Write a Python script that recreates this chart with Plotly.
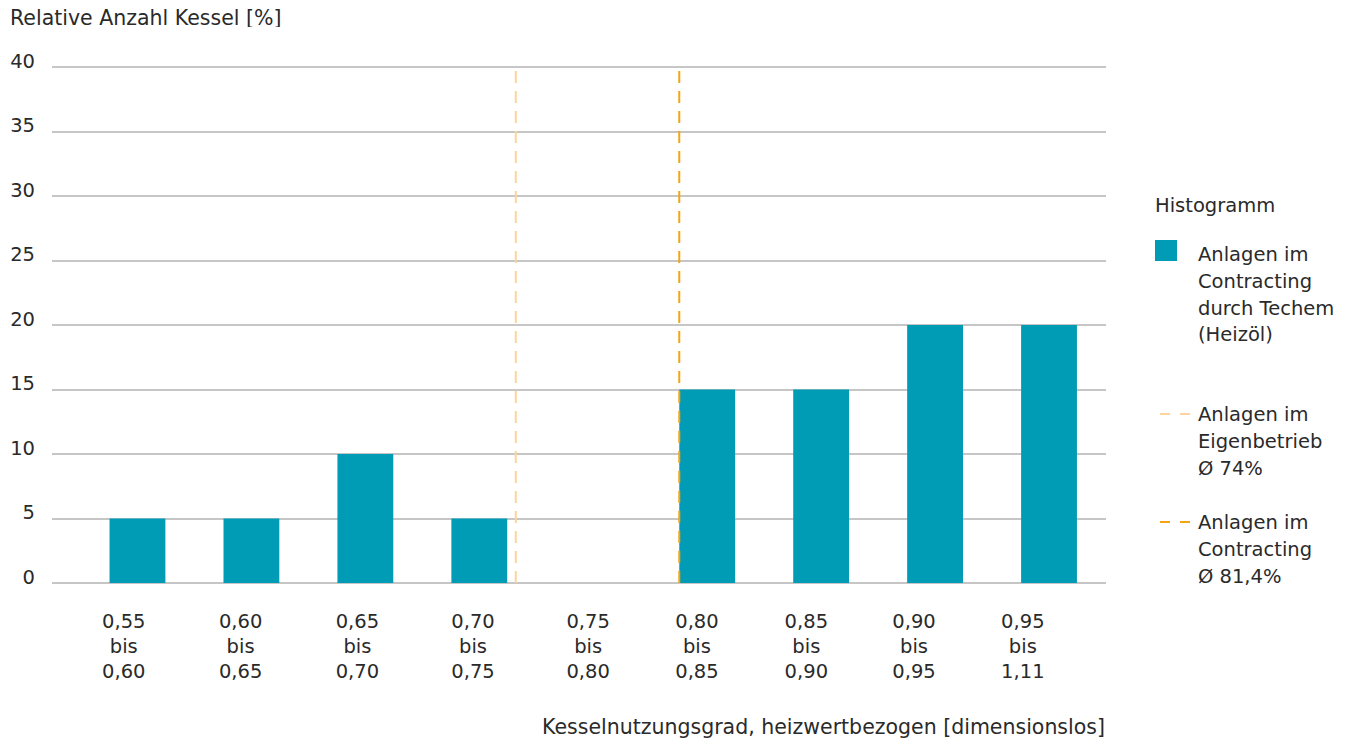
import plotly.graph_objects as go

# ---- data ----
bins_from = ["0,55", "0,60", "0,65", "0,70", "0,75", "0,80", "0,85", "0,90", "0,95"]
bins_to = ["0,60", "0,65", "0,70", "0,75", "0,80", "0,85", "0,90", "0,95", "1,11"]
share_pct = [5, 5, 10, 5, 0, 15, 15, 20, 20]
y_ticks = [0, 5, 10, 15, 20, 25, 30, 35, 40]
# mean positions on the category axis (index units)
mean_names = ["Anlagen im<br>Eigenbetrieb<br>Ø 74%", "Anlagen im<br>Contracting<br>Ø 81,4%"]
mean_pos = [3.32, 4.755]

# ---- layout / style ----
# the original's category labels are not exactly centred under the bars
label_pos = [-0.12, 0.905, 1.93, 2.945, 3.955, 4.91, 5.87, 6.815, 7.77]

TEAL = "#009bb4"
LIGHT = "#fcd49c"
DARK = "#f5a511"
GRID = "#c6c6c6"
TXT = "#2a2a2a"
FONT = "DejaVu Sans"
FS = 19.5
FS_TITLE = 20.5

OFF = 8  # page body margin
EXT = 2  # px of headroom so the 0 and 40 grid lines are drawn
W, H = 1349 - OFF, 743 - OFF
L, R, T, B = 52 - OFF, 1106 - OFF, 67 - OFF - EXT, 583 - OFF + EXT
unit = 516 / 40.0
pad_u = EXT / unit

cats = list(range(len(share_pct)))
tick_text = [f"{a}<br>bis<br>{b}" for a, b in zip(bins_from, bins_to)]

fig = go.Figure()
fig.add_trace(go.Bar(x=cats, y=share_pct, width=0.49, marker=dict(color=TEAL, line=dict(width=0)),
                     showlegend=False, hoverinfo="y"))
for pos, col in zip(mean_pos, [LIGHT, DARK]):
    fig.add_trace(go.Scatter(x=[pos, pos], y=[0, 40], mode="lines",
                             line=dict(color=col, width=2, dash="12px,8px"),
                             showlegend=False, hoverinfo="skip"))

def px(x):  # reference screen px -> paper
    return (x - OFF - L) / (R - L)

def py(y):
    return (B - (y - OFF)) / (B - T)

ann = []
shapes = []
ann.append(dict(text="Relative Anzahl Kessel [%]", x=px(9), y=py(18), xref="paper", yref="paper",
                xanchor="left", yanchor="middle", showarrow=False, height=18, borderpad=0,
                font=dict(size=FS_TITLE, color=TXT, family=FONT)))
ann.append(dict(text="Kesselnutzungsgrad, heizwertbezogen [dimensionslos]", x=px(1107), y=py(727),
                xref="paper", yref="paper", xanchor="right", yanchor="middle", showarrow=False,
                font=dict(size=FS_TITLE, color=TXT, family=FONT)))
# legend
ann.append(dict(text="Histogramm", x=px(1153), y=py(205), xref="paper", yref="paper",
                xanchor="left", yanchor="middle", showarrow=False, font=dict(size=FS, color=TXT, family=FONT)))

def multiline(text, x, y0, step=27):
    for i, line in enumerate(text.split("<br>")):
        ann.append(dict(text=line, x=px(x), y=py(y0 + i * step), xref="paper", yref="paper",
                        xanchor="left", yanchor="middle", showarrow=False,
                        font=dict(size=FS, color=TXT, family=FONT)))

shapes.append(dict(type="rect", xref="paper", yref="paper", x0=px(1155), x1=px(1177), y0=py(240), y1=py(261),
                   fillcolor=TEAL, line=dict(width=0)))
multiline("Anlagen im<br>Contracting<br>durch Techem<br>(Heizöl)", 1196, 254)
for name, col, yy in zip(mean_names, [LIGHT, DARK], [414, 522]):
    for xa in (1160, 1180):
        shapes.append(dict(type="line", xref="paper", yref="paper", x0=px(xa), x1=px(xa + 10),
                           y0=py(yy), y1=py(yy), line=dict(color=col, width=2)))
    multiline(name, 1196, yy)

fig.update_layout(
    width=W, height=H,
    margin=dict(l=L, r=W - R, t=T, b=H - B, pad=0, autoexpand=False),
    paper_bgcolor="white", plot_bgcolor="white",
    font=dict(family=FONT, size=FS, color=TXT),
    annotations=ann, shapes=shapes,
    showlegend=False,
    xaxis=dict(range=[-0.75, 8.5], tickmode="array", tickvals=label_pos, ticktext=tick_text,
               showgrid=False, zeroline=False, showline=False, ticks="", ticklabelstandoff=22,
               automargin=False, fixedrange=True),
    yaxis=dict(range=[-pad_u, 40 + pad_u], tickmode="array", tickvals=y_ticks,
               ticktext=[str(v) for v in y_ticks],
               showgrid=True, gridcolor=GRID, gridwidth=1.5, zeroline=False, showline=False,
               ticks="", ticklabelstandoff=16, ticklabelshift=-6, automargin=False, fixedrange=True),
)
fig.write_html("out.html")
